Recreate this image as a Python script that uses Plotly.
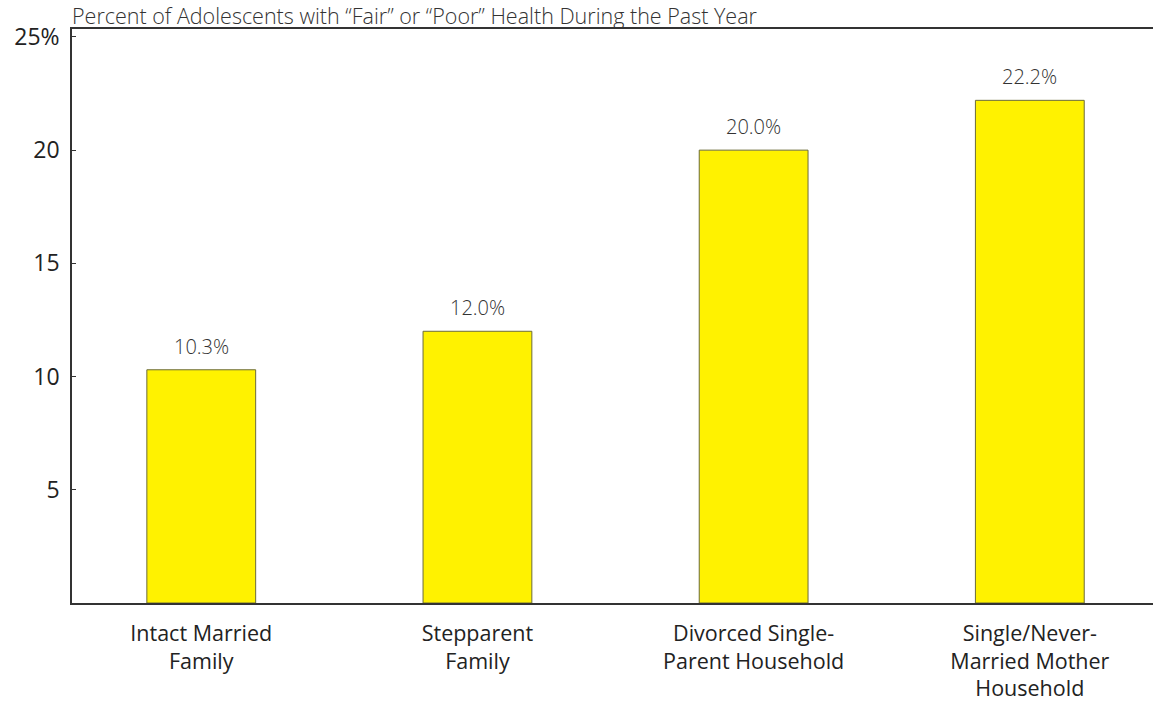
import plotly.graph_objects as go

categories = ["Intact Married<br>Family", "Stepparent<br>Family",
              "Divorced Single-<br>Parent Household",
              "Single/Never-<br>Married Mother<br>Household"]
values = [10.3, 12.0, 20.0, 22.2]
value_labels = ["10.3%", "12.0%", "20.0%", "22.2%"]
tick_vals = [5, 10, 15, 20, 25]
tick_text = ["5", "10", "15", "20", "25%"]
title_text = "Percent of Adolescents with “Fair” or “Poor” Health During the Past Year"

positions = list(range(len(categories)))
FONT = "'Open Sans', Lato, sans-serif"

fig = go.Figure()
fig.add_trace(go.Bar(
    x=positions, y=values, width=0.394,
    marker=dict(color="#FFF200", line=dict(color="#6b6b3a", width=1)),
    hoverinfo="skip",
))

for p, v, t in zip(positions, values, value_labels):
    fig.add_annotation(x=p, y=v, text=t, showarrow=False, yanchor="bottom",
                       yshift=8, font=dict(family=FONT, size=20, color="#333333", weight=300))

fig.add_annotation(x=0, xref="paper", y=1, yref="paper", xanchor="left", yanchor="bottom",
                   text=title_text, showarrow=False, xshift=-2, yshift=-3,
                   font=dict(family=FONT, size=21.5, color="#333333", weight=300))

fig.update_layout(
    width=1153, height=708,
    margin=dict(l=72, r=0, t=29, b=105),
    plot_bgcolor="white", paper_bgcolor="white",
    showlegend=False,
    xaxis=dict(range=[-0.468, 3.446], tickvals=positions, ticktext=categories,
               showline=True, linecolor="#333333", linewidth=1.5, mirror=True,
               ticks="", showgrid=False, zeroline=False, fixedrange=True,
               ticklabelstandoff=10,
               tickfont=dict(family=FONT, size=21.5, color="#222222")),
    yaxis=dict(range=[0, 25.35], tickvals=tick_vals, ticktext=tick_text,
               showline=True, linecolor="#333333", linewidth=1.5,
               ticks="inside", ticklen=4, tickcolor="#333333",
               showgrid=False, zeroline=False, fixedrange=True,
               ticklabelstandoff=6,
               tickfont=dict(family=FONT, size=23, color="#222222")),
)

fig.write_html("out.html", config={"displayModeBar": False},
               post_script="document.body.style.margin='0';document.body.style.overflow='hidden';")
